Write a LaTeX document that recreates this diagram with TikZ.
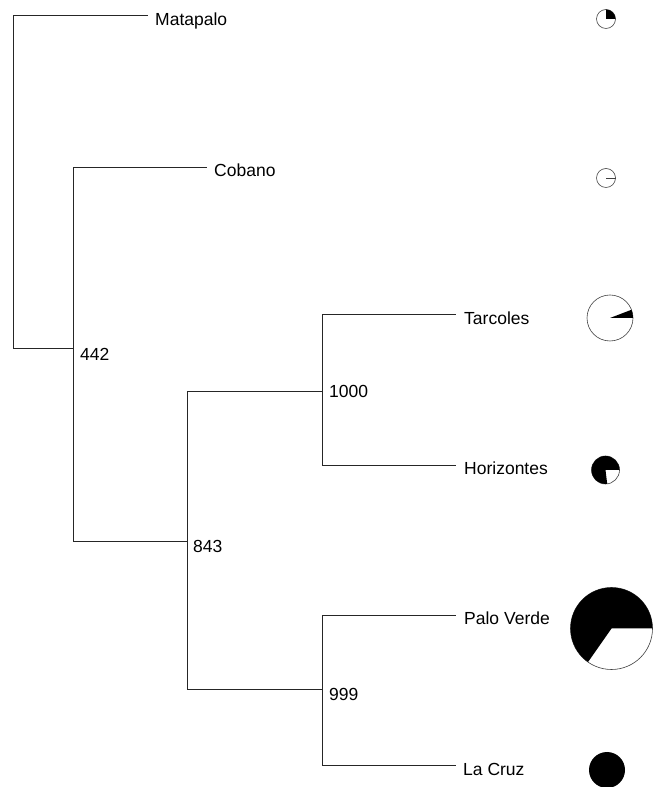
\documentclass[tikz,border=0pt]{standalone}
\usepackage{fontspec}
\setmainfont{Liberation Sans}
\tikzset{
  br/.style={draw=black!85, line width=0.9pt},
  lab/.style={anchor=base west, inner sep=0pt, font=\fontsize{17.5}{20}\selectfont},
  pieo/.style={draw=black!75, fill=white, line width=0.6pt},
  pief/.style={fill=black},
}
\begin{document}
\begin{tikzpicture}[x=1pt,y=1pt]
\useasboundingbox[fill=white] (0,0) rectangle (656,787);
% tree coordinates
\coordinate (root) at (13,439);
\coordinate (n442) at (73,439);
\coordinate (n843) at (187,246);
\coordinate (n1000) at (322,396);
\coordinate (n999) at (322,98);
\coordinate (tMata) at (148,772);
\coordinate (tCob) at (207,620);
\coordinate (tTar) at (456,473);
\coordinate (tHor) at (456,322);
\coordinate (tPal) at (456,172);
\coordinate (tLac) at (456,22);
% branches
\draw[br] (root) |- (tMata);
\draw[br] (root) -- (n442);
\draw[br] (n442) |- (tCob);
\draw[br] (n442) |- (n843);
\draw[br] (n843) |- (n1000);
\draw[br] (n843) |- (n999);
\draw[br] (n1000) |- (tTar);
\draw[br] (n1000) |- (tHor);
\draw[br] (n999) |- (tPal);
\draw[br] (n999) |- (tLac);
% leaf labels
\node[lab] (lMata) at (155,761) {Matapalo};
\node[lab] (lCob) at (214,610) {Cobano};
\node[lab] (lTar) at (464,462) {Tarcoles};
\node[lab] (lHor) at (464,312) {Horizontes};
\node[lab] (lPal) at (464,162) {Palo Verde};
\node[lab] (lLac) at (463,12) {La Cruz};
% node labels
\node[lab] (b442) at (80,426) {442};
\node[lab] (b1000) at (329,389) {1000};
\node[lab] (b843) at (193,234) {843};
\node[lab] (b999) at (329,86) {999};
% pies
\coordinate (pMata) at (606,768);
\filldraw[pieo] (pMata) circle[radius=9.5];
\fill[pief] (pMata) -- ++(0:9.5) arc[start angle=0,end angle=90,radius=9.5] -- cycle;
\coordinate (pCob) at (606,609);
\filldraw[pieo] (pCob) circle[radius=9.5];
\draw[black!75, line width=0.6pt] (pCob) -- ++(0:9.5);
\coordinate (pTar) at (610,469);
\filldraw[pieo] (pTar) circle[radius=23];
\fill[pief] (pTar) -- ++(0:23) arc[start angle=0,end angle=21,radius=23] -- cycle;
\coordinate (pHor) at (605.5,317);
\filldraw[pieo] (pHor) circle[radius=14];
\fill[pief] (pHor) -- ++(0:14) arc[start angle=0,end angle=277,radius=14] -- cycle;
\coordinate (pPal) at (611.5,158.5);
\filldraw[pieo] (pPal) circle[radius=41];
\fill[pief] (pPal) -- ++(0:41) arc[start angle=0,end angle=235,radius=41] -- cycle;
\coordinate (pLac) at (607,17);
\fill[pief] (pLac) circle[radius=18];
\end{tikzpicture}
\end{document}
